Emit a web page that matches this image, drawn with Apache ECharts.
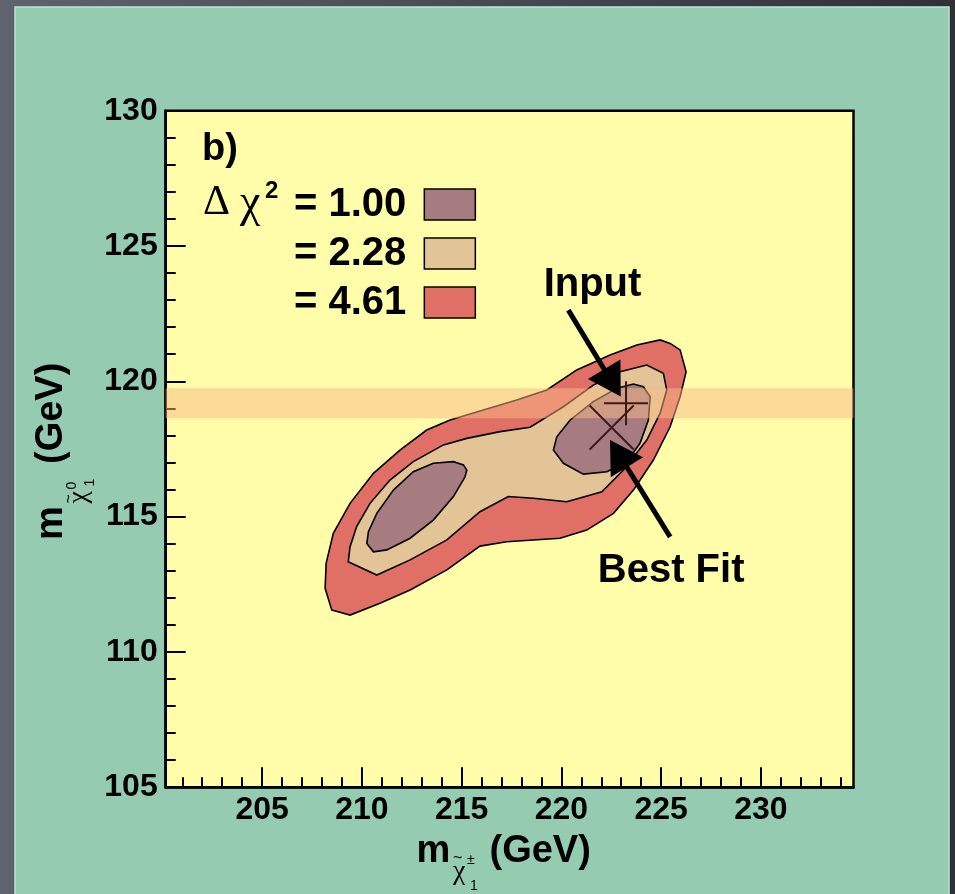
<!DOCTYPE html>
<html><head><meta charset="utf-8">
<script src="https://cdn.jsdelivr.net/npm/echarts@6/dist/echarts.min.js"></script>
<style>html,body{margin:0;padding:0;background:#4f525a;}#c{width:955px;height:894px;}</style>
</head><body><div id="c"></div>
<script>
// ---- axis ranges and ticks ----
const xMin = 200.17, xMax = 234.64;
const yMin = 105, yMax = 130, yInterval = 5;
const xMajorTicks = [205, 210, 215, 220, 225, 230];
const xMinorTicks = [201,202,203,204,206,207,208,209,211,212,213,214,216,217,218,219,221,222,223,224,226,227,228,229,231,232,233,234];

// ---- contour levels (Delta chi^2) ----
const levelNames = ['1.00', '2.28', '4.61'];
const contour461 = [[208.49,111.55],[209.41,111.36],[210.91,111.80],[212.42,112.29],[214.26,113.03],[215.92,113.91],[217.26,114.07],[219.93,114.20],[221.27,114.50],[222.61,115.12],[223.61,115.98],[224.61,117.09],[225.45,118.32],[225.95,119.43],[226.25,120.35],[225.95,121.16],[225.45,121.40],[224.95,121.53],[223.78,121.34],[222.44,120.97],[220.77,120.42],[219.27,119.68],[217.76,119.31],[216.09,118.94],[214.42,118.57],[213.25,118.20],[211.91,117.46],[210.58,116.60],[209.41,115.49],[208.57,114.38],[208.21,113.27],[208.16,112.35]];
const contour228 = [[209.32,113.33],[210.75,112.84],[212.42,113.40],[214.26,114.14],[215.92,115.18],[217.34,115.74],[218.60,115.68],[220.27,115.55],[222.03,115.92],[223.11,116.72],[224.28,117.83],[224.95,118.82],[225.28,119.68],[225.11,120.30],[224.28,120.60],[222.94,120.35],[221.60,119.86],[220.10,119.06],[218.43,118.30],[216.93,118.14],[215.26,117.89],[214.09,117.65],[212.58,117.03],[211.41,116.35],[210.41,115.49],[209.74,114.63],[209.41,113.89]];
const contour100Left = [[210.25,114.01],[210.58,113.70],[211.25,113.77],[212.42,114.20],[213.58,114.87],[214.59,115.74],[215.17,116.47],[215.26,116.72],[215.09,116.91],[214.59,117.03],[213.58,116.97],[212.58,116.66],[211.58,115.98],[210.75,115.12],[210.33,114.44]];
const contour100Right = [[219.60,117.46],[220.10,116.97],[221.10,116.57],[222.28,116.66],[223.28,117.03],[223.94,117.71],[224.36,118.57],[224.45,119.43],[224.11,119.80],[223.61,119.90],[222.78,119.74],[221.60,119.25],[220.44,118.57],[219.77,117.95]];

// ---- input value band, markers, annotations ----
const inputBand = [118.63, 119.74];
const inputPoint = [223.24, 119.19];
const bestFitPoint = [222.52, 118.29];
const inputArrow = [[220.35, 122.63], [222.56, 119.94]];
const bestFitArrow = [[225.45, 114.25], [222.86, 117.33]];
const annotationNames = ['Input', 'Best Fit'];
const annotationPos = [[221.56, 123.56], [225.50, 112.99]];

const SANS = '"Liberation Sans", Arial, Helvetica, sans-serif';
const SERIF = '"Liberation Serif", "Times New Roman", serif';
const fills = {'1.00': '#a67c80', '2.28': '#e3c496', '4.61': '#e07065'};

function polySeries(name, pts, z) {
  return {
    type: 'custom', name: name, z: z, silent: true,
    coordinateSystem: 'cartesian2d',
    itemStyle: {color: fills[name], borderColor: '#000', borderWidth: 1.5},
    data: [pts[0]],
    renderItem: function (params, api) {
      return {
        type: 'polygon',
        shape: {points: pts.map(function (p) { return api.coord(p); })},
        style: {fill: fills[name], stroke: '#000', lineWidth: 1.6}
      };
    }
  };
}

function t(text, x, y, font, extra) {
  return Object.assign({type: 'text', x: x, y: y, z: 20, silent: true,
    style: {text: text, font: font, fill: '#000', align: 'left', verticalAlign: 'middle'}}, extra || {});
}

function axisTitle(gx, gy, rot, sup, o) {
  return {
    type: 'group', x: gx, y: gy, rotation: rot, silent: true,
    children: [
      t('m', 0, -13.3, 'bold 38px ' + SANS),
      t('~', 36.5, o.tilde, '16px ' + SANS),
      t(sup, 50.5, o.sup, '14px ' + SANS),
      t('χ', 36.5, o.chi, '28px ' + SERIF),
      t('1', 53.5, o.one, '14px ' + SANS),
      t('(GeV)', o.gev, -13.3, 'bold 38px ' + SANS)
    ]
  };
}

const chart = echarts.init(document.getElementById('c'));
chart.setOption({
  animation: false,
  backgroundColor: '#4f525a',
  grid: {left: 165.7, right: 101.5, top: 110.7, bottom: 106.8, show: true,
    backgroundColor: '#fffcaa', borderColor: '#000', borderWidth: 2.5, containLabel: false},
  xAxis: [{
    type: 'value', min: xMin, max: xMax, position: 'bottom',
    axisLine: {show: true, onZero: false, lineStyle: {color: '#000', width: 2.5}},
    axisTick: {show: true, inside: true, length: 20, lineStyle: {color: '#000', width: 2}, customValues: xMajorTicks},
    axisLabel: {show: true, customValues: xMajorTicks, fontSize: 32, fontWeight: 'bold', color: '#000', fontFamily: SANS, margin: 7},
    splitLine: {show: false}
  }, {
    type: 'value', min: xMin, max: xMax, position: 'bottom', offset: 0,
    axisLine: {show: false, onZero: false},
    axisTick: {show: true, inside: true, length: 10, lineStyle: {color: '#000', width: 2}, customValues: xMinorTicks},
    axisLabel: {show: false, customValues: xMinorTicks},
    splitLine: {show: false}
  }],
  yAxis: {
    type: 'value', min: yMin, max: yMax, interval: yInterval,
    axisLine: {show: true, onZero: false, lineStyle: {color: '#000', width: 2.5}},
    axisTick: {show: true, inside: true, length: 20, lineStyle: {color: '#000', width: 2}},
    minorTick: {show: true, splitNumber: 5, length: 10, lineStyle: {color: '#000', width: 2}},
    axisLabel: {fontSize: 32, fontWeight: 'bold', color: '#000', fontFamily: SANS, margin: 8},
    splitLine: {show: false}, minorSplitLine: {show: false}
  },
  legend: {
    data: levelNames, orient: 'vertical', align: 'right', left: 294, top: 184.5, padding: 0,
    icon: 'rect', itemWidth: 51, itemHeight: 31, itemGap: 9, selectedMode: false,
    itemStyle: {borderColor: '#000', borderWidth: 1.5},
    formatter: function (n) { return '= ' + n; },
    textStyle: {fontSize: 40, fontWeight: 'bold', color: '#000', fontFamily: SANS, padding: [0, 13, 0, 0]}
  },
  graphic: [
    {type: 'rect', z: -100, silent: true, shape: {x: 0, y: 0, width: 955, height: 894},
      style: {fill: new echarts.graphic.LinearGradient(0, 0, 1, 0, [{offset: 0, color: '#5f636e'}, {offset: 1, color: '#2f3136'}])}},
    {type: 'rect', z: -99, silent: true, shape: {x: 15, y: 7, width: 934, height: 900},
      style: {fill: '#94cbb1', stroke: '#c4e2d4', lineWidth: 1.5}},
    t('b)', 202, 150, 'bold 38px ' + SANS),
    t('Δ', 203, 202.5, '42px ' + SERIF),
    t('χ', 240, 204, '46px ' + SERIF),
    t('2', 265, 191.6, 'bold 24px ' + SANS),
    axisTitle(416.5, 865, 0, '±', {tilde: -6, sup: -5, chi: 7, one: 21, gev: 73}),
    axisTitle(65, 540, Math.PI / 2, '0', {tilde: 5, sup: 7, chi: 14, one: 25, gev: 76})
  ],
  series: [
    polySeries('4.61', contour461, 2),
    polySeries('2.28', contour228, 2.1),
    polySeries('1.00', contour100Left, 2.2),
    polySeries('1.00', contour100Right, 2.2),
    {
      type: 'custom', z: 3, silent: true, data: [inputBand],
      renderItem: function (params, api) {
        const cs = params.coordSys;
        const top = api.coord([xMin, api.value(1)])[1];
        const bot = api.coord([xMin, api.value(0)])[1];
        return {type: 'rect', shape: {x: cs.x, y: top, width: cs.width, height: bot - top},
          style: {fill: 'rgba(250,186,135,0.5)'}};
      }
    },
    {type: 'scatter', z: 4, silent: true, data: [inputPoint],
      symbol: 'path://M10,0L10,20M0,10L20,10', symbolSize: 44,
      itemStyle: {color: 'rgba(0,0,0,0)', borderColor: '#3d1a1a', borderWidth: 2, opacity: 1}},
    {type: 'scatter', z: 4, silent: true, data: [bestFitPoint],
      symbol: 'path://M0,0L20,20M20,0L0,20', symbolSize: 44,
      itemStyle: {color: 'rgba(0,0,0,0)', borderColor: '#3d1a1a', borderWidth: 2, opacity: 1}},
    {type: 'line', z: 5, silent: true, data: [],
      markLine: {silent: true, symbol: ['none', 'triangle'], symbolSize: [38, 32],
        label: {show: false}, emphasis: {disabled: true},
        lineStyle: {color: '#000', width: 5, type: 'solid', opacity: 1},
        data: [
          [{coord: inputArrow[0]}, {coord: inputArrow[1]}],
          [{coord: bestFitArrow[0]}, {coord: bestFitArrow[1]}]
        ]}},
    {type: 'scatter', z: 6, silent: true, symbolSize: 2, itemStyle: {color: 'rgba(0,0,0,0)', opacity: 1},
      data: annotationNames.map(function (n, i) { return {name: n, value: annotationPos[i]}; }),
      label: {show: true, position: 'inside', formatter: '{b}', fontSize: 40, fontWeight: 'bold', color: '#000',
        opacity: 1, textBorderWidth: 0, fontFamily: SANS}}
  ]
});
</script></body></html>
